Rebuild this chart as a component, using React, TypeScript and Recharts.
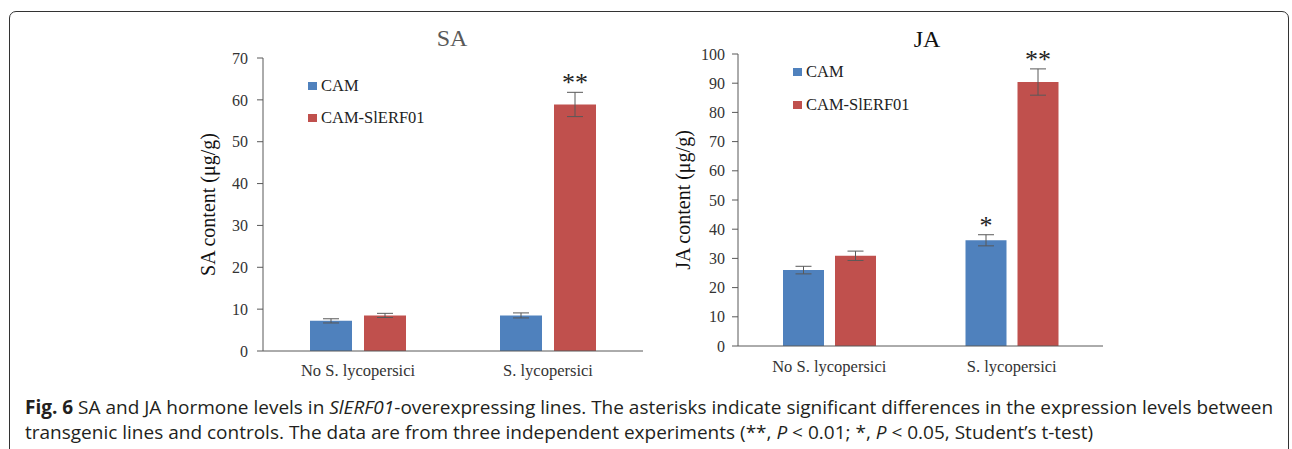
import { BarChart, Bar, XAxis, YAxis, ErrorBar, LabelList, Legend, Label } from 'recharts';

const categories = ['No S. lycopersici', 'S. lycopersici'];

// SA panel
const saCam = [7.2, 8.5];
const saCamErr = [0.5, 0.6];
const saCamSig = ['', ''];
const saOe = [8.5, 58.9];
const saOeErr = [0.5, 2.9];
const saOeSig = ['', '**'];
const saTicks = [0, 10, 20, 30, 40, 50, 60, 70];

// JA panel
const jaCam = [26, 36.2];
const jaCamErr = [1.3, 1.9];
const jaCamSig = ['', '*'];
const jaOe = [30.9, 90.4];
const jaOeErr = [1.6, 4.5];
const jaOeSig = ['', '**'];
const jaTicks = [0, 10, 20, 30, 40, 50, 60, 70, 80, 90, 100];

const BLUE = '#4F81BD';
const RED = '#C0504D';
const SERIF = '"Liberation Serif", "Times New Roman", serif';

function buildRows(cam: number[], camErr: number[], camSig: string[], oe: number[], oeErr: number[], oeSig: string[]) {
  return categories.map((name, i) => ({
    name,
    cam: cam[i],
    camErr: camErr[i],
    camSig: camSig[i],
    oe: oe[i],
    oeErr: oeErr[i],
    oeSig: oeSig[i],
  }));
}

// asterisk sitting just above the error bar cap
const sigLabel = (values: number[], errs: number[]) => (props: any) => {
  const { x, y, width, height, value, index } = props;
  if (!value) return null;
  const errPx = (errs[index] * height) / values[index];
  return (
    <text x={x + width / 2} y={y - errPx - 1} textAnchor="middle" fontSize={26} fontFamily={SERIF} fill="#222">
      {value}
    </text>
  );
};

const renderLegend = (gap: number) => (props: any) => (
  <div style={{ fontFamily: SERIF, fontSize: 16.5, color: '#222' }}>
    {props.payload.map((e: any, i: number) => (
      <div key={e.value} style={{ display: 'flex', alignItems: 'center', height: 16, marginBottom: i === 0 ? gap : 0 }}>
        <span style={{ width: 9, height: 8, background: e.color, marginRight: 4, display: 'inline-block' }} />
        <span>{e.value}</span>
      </div>
    ))}
  </div>
);

interface PanelProps {
  title: string;
  titleColor: string;
  yLabel: string;
  rows: any[];
  cam: number[];
  camErr: number[];
  oe: number[];
  oeErr: number[];
  ticks: number[];
  left: number;
  top: number;
  yWidth: number;
  xHeight: number;
  marginTop: number;
  labelDx: number;
  tickMargin: number;
  xTickMargin: number;
  barSize: number;
  barGap: number;
  legendLeft: number;
  legendTop: number;
  legendGap: number;
  titleX: number;
  titleTop: number;
}

function Panel(p: PanelProps) {
  const max = p.ticks[p.ticks.length - 1];
  return (
    <>
      <div style={{ position: 'absolute', left: p.titleX - 40, top: p.titleTop, width: 80, textAlign: 'center', fontFamily: SERIF, fontSize: 24, lineHeight: 1, color: p.titleColor }}>
        {p.title}
      </div>
      <div style={{ position: 'absolute', left: p.left, top: p.top }}>
        <BarChart width={480} height={370} data={p.rows} margin={{ top: p.marginTop, right: 17, bottom: 0, left: 0 }} barSize={p.barSize} barGap={p.barGap}>
          <XAxis
            dataKey="name"
            height={p.xHeight}
            tickLine={false}
            tickSize={0}
            tickMargin={p.xTickMargin}
            axisLine={{ stroke: '#595959' }}
            tick={{ fontSize: 16.5, fontFamily: SERIF, fill: '#333' }}
          />
          <YAxis
            width={p.yWidth}
            domain={[0, max]}
            ticks={p.ticks}
            interval={0}
            tickSize={6}
            tickMargin={p.tickMargin}
            axisLine={{ stroke: '#595959' }}
            tickLine={{ stroke: '#595959' }}
            tick={{ fontSize: 16, fontFamily: SERIF, fill: '#333' }}
          >
            <Label value={p.yLabel} angle={-90} position="center" dx={p.labelDx} style={{ fontSize: 20, fontFamily: SERIF, fill: '#111' }} />
          </YAxis>
          <Legend
            layout="vertical"
            align="center"
            verticalAlign="middle"
            content={renderLegend(p.legendGap)}
            wrapperStyle={{ left: p.legendLeft, top: p.legendTop, width: 'auto', height: 'auto' }}
          />
          <Bar dataKey="cam" name="CAM" fill={BLUE} isAnimationActive={false}>
            <ErrorBar dataKey="camErr" width={8} stroke="#595959" strokeWidth={1} />
            <LabelList dataKey="camSig" content={sigLabel(p.cam, p.camErr)} />
          </Bar>
          <Bar dataKey="oe" name="CAM-SlERF01" fill={RED} isAnimationActive={false}>
            <ErrorBar dataKey="oeErr" width={8} stroke="#595959" strokeWidth={1} />
            <LabelList dataKey="oeSig" content={sigLabel(p.oe, p.oeErr)} />
          </Bar>
        </BarChart>
      </div>
    </>
  );
}

export default function App() {
  const saRows = buildRows(saCam, saCamErr, saCamSig, saOe, saOeErr, saOeSig);
  const jaRows = buildRows(jaCam, jaCamErr, jaCamSig, jaOe, jaOeErr, jaOeSig);
  return (
    <div style={{ position: 'fixed', left: 0, top: 0, width: 1292, height: 449, overflow: 'hidden', background: '#fff' }}>
      <div style={{ position: 'absolute', left: 9, top: 11, width: 1278, height: 520, border: '1.5px solid #333', borderRadius: 7 }} />
      <Panel
        title="SA" titleColor="#595959" yLabel="SA content (μg/g)"
        rows={saRows} cam={saCam} camErr={saCamErr} oe={saOe} oeErr={saOeErr} ticks={saTicks}
        left={180} top={20} yWidth={83} xHeight={39} marginTop={38} labelDx={-13.5}
        tickMargin={9} xTickMargin={13} barSize={42} barGap={12}
        legendLeft={128} legendTop={58} legendGap={16}
        titleX={452} titleTop={26}
      />
      <Panel
        title="JA" titleColor="#111" yLabel="JA content (μg/g)"
        rows={jaRows} cam={jaCam} camErr={jaCamErr} oe={jaOe} oeErr={jaOeErr} ticks={jaTicks}
        left={640} top={20} yWidth={98} xHeight={44} marginTop={34} labelDx={-6}
        tickMargin={7} xTickMargin={14} barSize={41} barGap={11}
        legendLeft={153} legendTop={44} legendGap={17}
        titleX={927} titleTop={27}
      />
      <div style={{ position: 'absolute', left: 25, top: 395, fontFamily: '"Open Sans", sans-serif', fontSize: 19, lineHeight: '25px', color: '#231f20', whiteSpace: 'nowrap' }}>
        <b>Fig. 6</b> SA and JA hormone levels in <i>SlERF01</i>-overexpressing lines. The asterisks indicate significant differences in the expression levels between
        <br />
        transgenic lines and controls. The data are from three independent experiments (**, <i>P</i> &lt; 0.01; *, <i>P</i> &lt; 0.05, Student’s t-test)
      </div>
    </div>
  );
}
